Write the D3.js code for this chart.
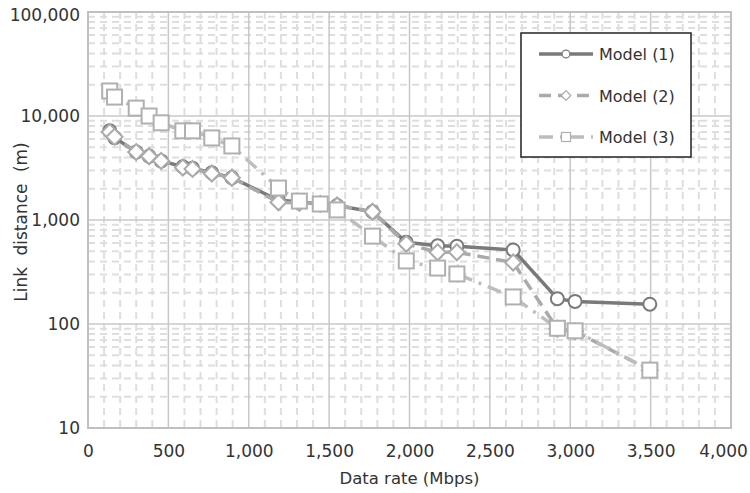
<!DOCTYPE html>
<html>
<head>
<meta charset="utf-8">
<script src="https://cdn.jsdelivr.net/npm/d3@7"></script>
<style>
body { margin: 0; background: #fff; }
text { font-family: "DejaVu Sans", sans-serif; fill: #333; }
</style>
</head>
<body>
<div id="chart"></div>
<script>
// data
var rates = [135, 165, 300, 380, 455, 590, 650, 770, 895, 1185, 1315, 1445, 1550, 1770, 1980, 2175, 2295, 2645, 2920, 3030, 3495];
var model1 = [7200, 6200, 4500, 4100, 3700, 3250, 3150, 2850, 2550, 1550, 1500, 1420, 1380, 1200, 610, 565, 560, 515, 175, 165, 155];
var model2 = [7000, 6300, 4500, 4100, 3700, 3200, 3100, 2800, 2550, 1480, 1460, 1430, 1380, 1200, 590, 490, 490, 390, 90, 85, 36];
var model3 = [17400, 15200, 11900, 10000, 8600, 7200, 7200, 6150, 5150, 2030, 1520, 1425, 1250, 700, 404, 345, 303, 182, 91, 86, 36];
var seriesNames = ["Model (1)", "Model (2)", "Model (3)"];
var xTicks = [0, 500, 1000, 1500, 2000, 2500, 3000, 3500, 4000];
var yTicks = [10, 100, 1000, 10000, 100000];

(function() {
var w = 750, h = 493;
var pLeft = 88, pRight = 731, pTop = 12, pBottom = 428;

var svg = d3.select("#chart").append("svg")
  .attr("width", w)
  .attr("height", h);

var xScale = d3.scaleLinear().domain([0, 4000]).range([pLeft, pRight]);
var yScale = d3.scaleLog().domain([10, 100000]).range([pBottom, pTop]);

// minor grid
var xMinor = d3.range(100, 4000, 100).filter(function(d) { return d % 500 != 0; });
var yMinor = [];
[10, 100, 1000, 10000].forEach(function(b) {
  for (var k = 2; k < 10; k++) yMinor.push(b * k);
});

svg.append("g").selectAll("line").data(xMinor).enter().append("line")
  .attr("x1", function(d) { return xScale(d); })
  .attr("x2", function(d) { return xScale(d); })
  .attr("y1", pTop).attr("y2", pBottom)
  .attr("stroke", "#dedede").attr("stroke-width", 2)
  .attr("stroke-dasharray", "7,5");

svg.append("g").selectAll("line").data(yMinor).enter().append("line")
  .attr("x1", pLeft).attr("x2", pRight)
  .attr("y1", function(d) { return yScale(d); })
  .attr("y2", function(d) { return yScale(d); })
  .attr("stroke", "#dedede").attr("stroke-width", 2)
  .attr("stroke-dasharray", "7,5");

// major grid
svg.append("g").selectAll("line").data(xTicks).enter().append("line")
  .attr("x1", function(d) { return xScale(d); })
  .attr("x2", function(d) { return xScale(d); })
  .attr("y1", pTop).attr("y2", pBottom)
  .attr("stroke", "#c8c8c8").attr("stroke-width", 1.5);

svg.append("g").selectAll("line").data(yTicks).enter().append("line")
  .attr("x1", pLeft).attr("x2", pRight)
  .attr("y1", function(d) { return yScale(d); })
  .attr("y2", function(d) { return yScale(d); })
  .attr("stroke", "#c8c8c8").attr("stroke-width", 1.5);

svg.append("rect")
  .attr("x", pLeft).attr("y", pTop)
  .attr("width", pRight - pLeft).attr("height", pBottom - pTop)
  .attr("fill", "none").attr("stroke", "#c0c0c0").attr("stroke-width", 2);

// axes (labels only)
var xAxis = d3.axisBottom(xScale).tickValues(xTicks).tickSize(0).tickPadding(17)
  .tickFormat(d3.format(","));
svg.append("g")
  .attr("transform", "translate(0," + pBottom + ")")
  .call(xAxis)
  .call(function(g) { g.select(".domain").remove(); })
  .selectAll("text").style("font-size", "17px").attr("fill", "#333")
  .attr("dx", function(d) { return d == 4000 ? "-8" : 0; });

var yAxis = d3.axisLeft(yScale).tickValues(yTicks).tickSize(0).tickPadding(8)
  .tickFormat(d3.format(","));
svg.append("g")
  .attr("transform", "translate(" + pLeft + ",0)")
  .call(yAxis)
  .call(function(g) { g.select(".domain").remove(); })
  .selectAll("text").style("font-size", "17px").attr("fill", "#333")
  .attr("dy", function(d) { return d == 100000 ? "0.5em" : "0.32em"; });

svg.append("text")
  .attr("x", (pLeft + pRight) / 2)
  .attr("y", 484)
  .attr("text-anchor", "middle")
  .style("font-size", "16.5px")
  .text("Data rate (Mbps)");

svg.append("text")
  .attr("transform", "translate(27," + ((pTop + pBottom) / 2 + 2) + ") rotate(-90)")
  .attr("text-anchor", "middle")
  .style("font-size", "17px")
  .style("word-spacing", "6px")
  .text("Link distance (m)");

// series
var styles = [
  { color: "#7a7a7a", dash: null, width: 3.5, marker: "circle" },
  { color: "#aaaaaa", dash: "12,7", width: 3.5, marker: "diamond" },
  { color: "#bdbdbd", dash: "14,7,3,7", width: 3.5, marker: "square" }
];
var allSeries = [model1, model2, model3];

var line = d3.line()
  .x(function(d) { return xScale(d[0]); })
  .y(function(d) { return yScale(d[1]); });

function drawMarker(g, type, color) {
  if (type == "circle") {
    g.append("circle").attr("r", 6.5)
      .attr("fill", "#fff").attr("stroke", color).attr("stroke-width", 2);
  } else if (type == "diamond") {
    g.append("path").attr("d", "M0,-8L8,0L0,8L-8,0Z")
      .attr("fill", "#fff").attr("stroke", color).attr("stroke-width", 2);
  } else {
    g.append("rect").attr("x", -7.5).attr("y", -7.5).attr("width", 15).attr("height", 15)
      .attr("fill", "#fff").attr("stroke", color).attr("stroke-width", 2);
  }
}

allSeries.forEach(function(vals, i) {
  var st = styles[i];
  var pts = rates.map(function(r, j) { return [r, vals[j]]; });
  svg.append("path")
    .datum(pts)
    .attr("d", line)
    .attr("fill", "none")
    .attr("stroke", st.color)
    .attr("stroke-width", st.width)
    .attr("stroke-dasharray", st.dash);
  svg.append("g").selectAll("g").data(pts).enter().append("g")
    .attr("transform", function(d) { return "translate(" + xScale(d[0]) + "," + yScale(d[1]) + ")"; })
    .each(function() { drawMarker(d3.select(this), st.marker, i == 2 ? "#b0b0b0" : st.color); });
});

// legend
var lg = svg.append("g").attr("transform", "translate(521,33)");
lg.append("rect").attr("width", 170).attr("height", 124)
  .attr("fill", "#fff").attr("stroke", "#222").attr("stroke-width", 1.5);
seriesNames.forEach(function(name, i) {
  var st = styles[i];
  var yy = 21 + i * 41.5;
  lg.append("line").attr("x1", 18).attr("x2", 72).attr("y1", yy).attr("y2", yy)
    .attr("stroke", st.color).attr("stroke-width", 3.5).attr("stroke-dasharray", st.dash);
  var m = lg.append("g").attr("transform", "translate(45," + yy + ") scale(0.6)");
  drawMarker(m, st.marker, i == 2 ? "#b0b0b0" : st.color);
  lg.append("text").attr("x", 78).attr("y", yy + 6)
    .style("font-size", "16px").text(name);
});
})();
</script>
</body>
</html>
